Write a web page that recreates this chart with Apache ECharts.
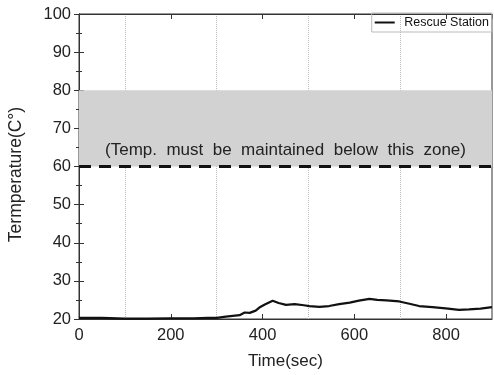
<!DOCTYPE html>
<html><head><meta charset="utf-8">
<script src="https://cdn.jsdelivr.net/npm/echarts@6/dist/echarts.min.js"></script>
<style>html,body{margin:0;padding:0;background:#fff}#c{width:494px;height:375px}</style>
</head><body><div id="c"></div>
<script>
const timeSec = [0, 50, 100, 150, 200, 250, 280, 300, 320, 335, 350, 361, 372, 385, 393, 405, 422, 435, 451, 470, 490, 502, 524, 545, 567, 590, 610, 633, 650, 670, 698, 720, 741, 770, 799, 828, 850, 875, 900];
const tempRescue = [20.3, 20.3, 20.1, 20.1, 20.2, 20.2, 20.3, 20.3, 20.6, 20.8, 21.0, 21.7, 21.6, 22.2, 23.0, 23.8, 24.8, 24.2, 23.7, 23.9, 23.6, 23.4, 23.2, 23.4, 23.9, 24.3, 24.8, 25.3, 25.0, 24.9, 24.6, 24.0, 23.4, 23.1, 22.8, 22.4, 22.5, 22.7, 23.1];
const zoneLow = 60, zoneHigh = 80;
const zoneText = '(Temp.  must  be  maintained  below  this  zone)';
const seriesName = 'Rescue Station';

const chart = echarts.init(document.getElementById('c'));
const font = 'Liberation Sans, Arial, sans-serif';
const tickStyle = {color: '#333'};
chart.setOption({
  animation: false,
  grid: {left: 79, right: 2, top: 14, bottom: 56, show: true, borderColor: '#333', borderWidth: 1, outerBoundsMode: 'none', containLabel: false},
  legend: {
    right: 2, top: 13, orient: 'horizontal',
    data: [{name: seriesName, icon: 'path://M0,0 L10,0 L10,1 L0,1 Z'}],
    itemWidth: 29, itemHeight: 2, itemGap: 4,
    borderColor: '#bbb', borderWidth: 1, padding: [3, 3, 3, 3],
    textStyle: {fontFamily: font, fontSize: 12.5, color: '#111'}
  },
  xAxis: [{
    type: 'value', min: 0, max: 900, interval: 200,
    name: 'Time(sec)', nameLocation: 'middle', nameGap: 34,
    nameTextStyle: {fontFamily: font, fontSize: 17, color: '#222'},
    axisLine: {show: true, lineStyle: tickStyle},
    axisTick: {show: true, inside: true, length: 5, lineStyle: tickStyle},
    minorTick: {show: false, splitNumber: 2},
    axisLabel: {fontFamily: font, fontSize: 16.5, color: '#222', margin: 8, showMaxLabel: false},
    splitLine: {show: false},
    minorSplitLine: {show: true, lineStyle: {color: '#bbb', type: 'dotted', width: 1}}
  }, {
    type: 'value', min: 0, max: 900, interval: 200, position: 'top',
    axisLine: {show: true, lineStyle: tickStyle},
    axisTick: {show: true, inside: true, length: 5, lineStyle: tickStyle},
    axisLabel: {show: false}, splitLine: {show: false}
  }],
  yAxis: [{
    type: 'value', min: 20, max: 100, interval: 10,
    name: 'Termperature(C°)', nameLocation: 'middle', nameGap: 54,
    nameTextStyle: {fontFamily: font, fontSize: 17.5, color: '#222', padding: [0, 16, 0, 0]},
    axisLine: {show: true, lineStyle: tickStyle},
    axisTick: {show: true, inside: true, length: 5, lineStyle: tickStyle},
    minorTick: {show: true, splitNumber: 2, length: 3, lineStyle: tickStyle},
    axisLabel: {fontFamily: font, fontSize: 16.5, color: '#222', margin: 8},
    splitLine: {show: false}
  }, {
    type: 'value', min: 20, max: 100, interval: 10, position: 'right',
    axisLine: {show: true, lineStyle: tickStyle},
    axisTick: {show: true, inside: true, length: 5, lineStyle: tickStyle},
    minorTick: {show: true, splitNumber: 2, length: 3, lineStyle: tickStyle},
    axisLabel: {show: false}, splitLine: {show: false}
  }],
  series: [{
    name: seriesName, type: 'line', showSymbol: false,
    data: timeSec.map((t, i) => [t, tempRescue[i]]),
    lineStyle: {color: '#111', width: 2.2},
    itemStyle: {color: '#111'},
    markArea: {
      silent: true,
      itemStyle: {color: '#d2d2d2'},
      label: {show: true, position: 'insideBottom', distance: 8, formatter: zoneText,
              fontFamily: font, fontSize: 17, color: '#222'},
      data: [[{yAxis: zoneLow}, {yAxis: zoneHigh}]]
    },
    markLine: {
      silent: true, symbol: 'none', label: {show: false},
      lineStyle: {color: '#111', type: [12, 8], width: 3},
      data: [{yAxis: zoneLow}]
    }
  }]
});
</script></body></html>
